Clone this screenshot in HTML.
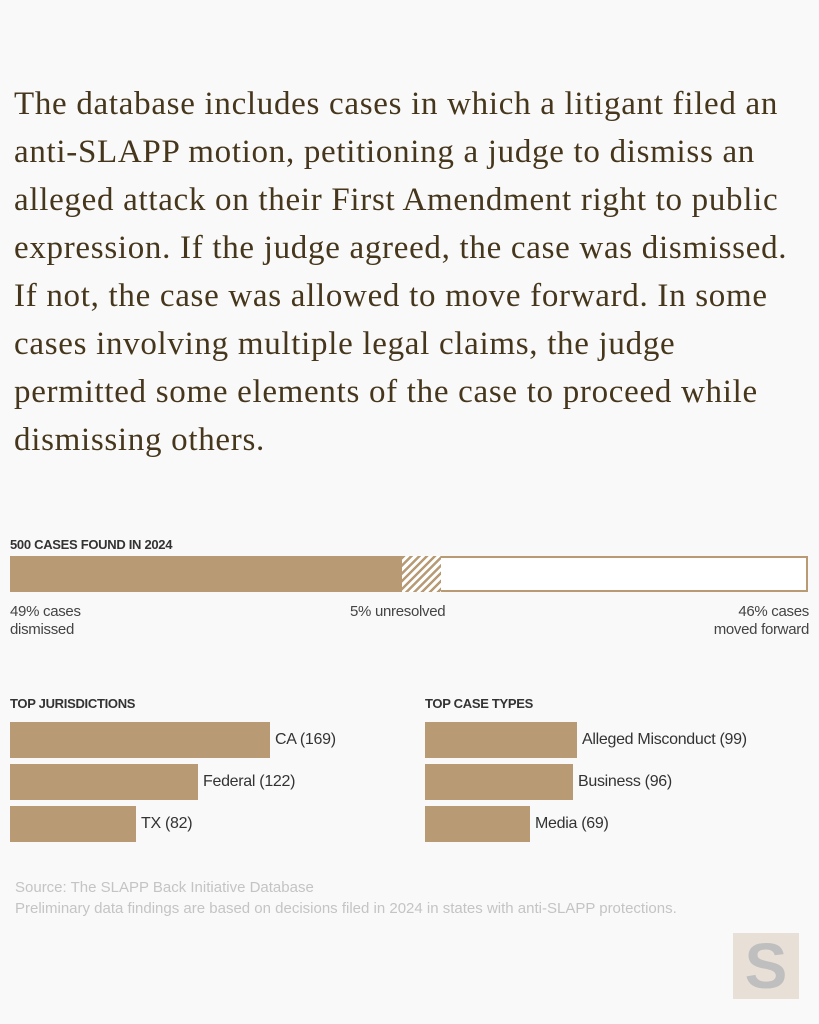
<!DOCTYPE html>
<html><head><style>
body{margin:0;width:819px;height:1024px;background:#f9f9f9;position:relative;overflow:hidden;font-family:"Liberation Sans",sans-serif;}
.p{position:absolute;left:14px;top:80px;width:810px;font-family:"Liberation Serif",serif;font-size:33px;line-height:48px;color:#45361c;margin:0;white-space:nowrap;letter-spacing:0.7px}
.a{position:absolute;}
.h{font-size:13px;font-weight:bold;color:#333;letter-spacing:-0.3px}
.l{font-size:15px;color:#444;line-height:18px;letter-spacing:-0.3px}
.b{position:absolute;background:#b89b74;height:36px}
.bl{position:absolute;font-size:16px;color:#333;line-height:36px;letter-spacing:-0.3px}
</style></head><body>
<p class="p">The database includes cases in which a litigant filed an<br>anti-SLAPP motion, petitioning a judge to dismiss an<br>alleged attack on their First Amendment right to public<br>expression. If the judge agreed, the case was dismissed.<br>If not, the case was allowed to move forward. In some<br>cases involving multiple legal claims, the judge<br>permitted some elements of the case to proceed while<br>dismissing others.</p>
<div class="a h" style="left:10px;top:537px">500 CASES FOUND IN 2024</div>
<div class="a" style="left:10px;top:556px;width:794px;height:32px;border:2px solid #b89b74;background:#fff"></div>
<div class="a" style="left:10px;top:556px;width:392px;height:36px;background:#b89b74"></div>
<div class="a" style="left:402px;top:556px;width:39px;height:36px;background:repeating-linear-gradient(135deg,#b89b74 0 2.5px,#fff 2.5px 5.5px)"></div>
<div class="a l" style="left:10px;top:603px">49% cases<br>dismissed</div>
<div class="a l" style="left:350px;top:603px">5% unresolved</div>
<div class="a l" style="right:10px;top:603px;text-align:right">46% cases<br>moved forward</div>
<div class="a h" style="left:10px;top:696px">TOP JURISDICTIONS</div>
<div class="b" style="left:10px;top:722px;width:260px"></div><div class="bl" style="left:275px;top:722px">CA (169)</div>
<div class="b" style="left:10px;top:764px;width:188px"></div><div class="bl" style="left:203px;top:764px">Federal (122)</div>
<div class="b" style="left:10px;top:806px;width:126px"></div><div class="bl" style="left:141px;top:806px">TX (82)</div>
<div class="a h" style="left:425px;top:696px">TOP CASE TYPES</div>
<div class="b" style="left:425px;top:722px;width:152px"></div><div class="bl" style="left:582px;top:722px">Alleged Misconduct (99)</div>
<div class="b" style="left:425px;top:764px;width:148px"></div><div class="bl" style="left:578px;top:764px">Business (96)</div>
<div class="b" style="left:425px;top:806px;width:105px"></div><div class="bl" style="left:535px;top:806px">Media (69)</div>
<div class="a" style="left:15px;top:877px;font-size:15px;color:#c4c4c4;line-height:21px">Source: The SLAPP Back Initiative Database<br>Preliminary data findings are based on decisions filed in 2024 in states with anti-SLAPP protections.</div>
<div class="a" style="left:733px;top:933px;width:66px;height:66px;background:#e8e0d6;color:#bfbfbf;font-weight:bold;font-size:64px;line-height:66px;text-align:center">S</div>
</body></html>
